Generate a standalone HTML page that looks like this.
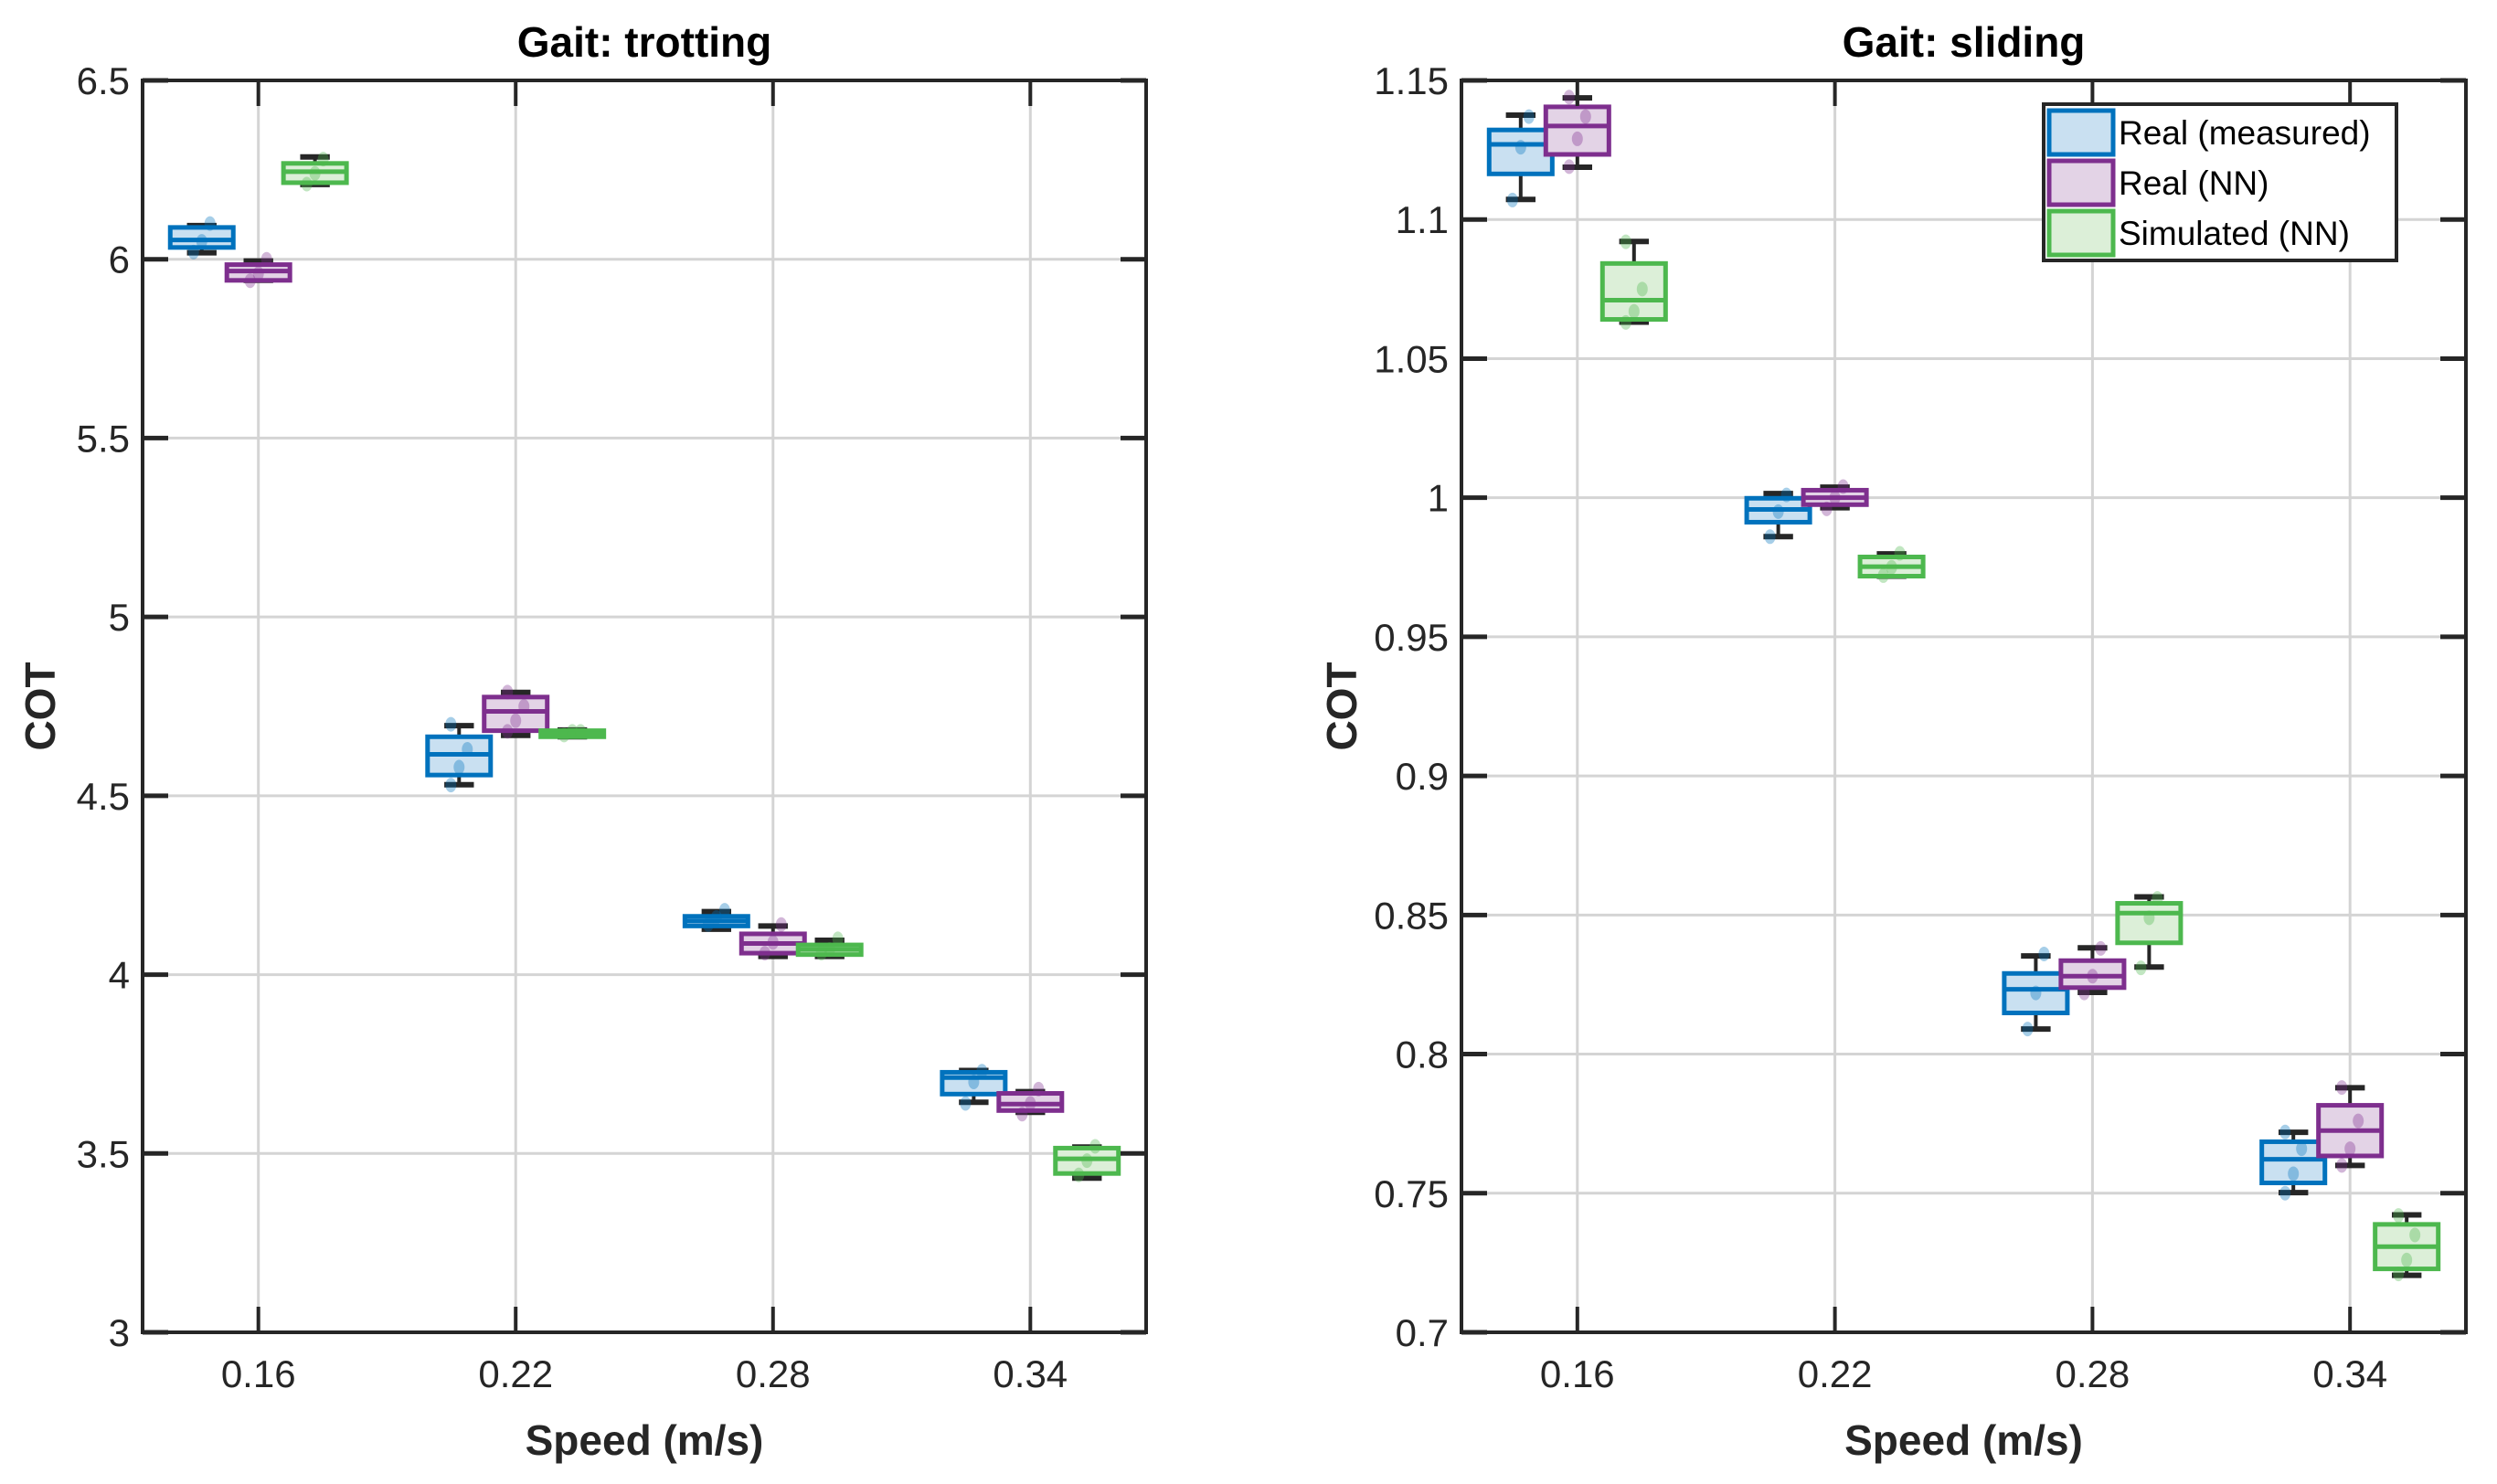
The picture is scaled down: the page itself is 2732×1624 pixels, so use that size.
<!DOCTYPE html>
<html><head><meta charset="utf-8"><style>
html,body{margin:0;padding:0;background:#fff;}
svg{display:block;font-family:"Liberation Sans","DejaVu Sans",sans-serif;}
</style></head><body>
<svg id="fig" width="2732" height="1624" viewBox="0 0 2732 1624" xmlns="http://www.w3.org/2000/svg"></svg>
<script>
// ---- data ----
const categories = ["0.16","0.22","0.28","0.34"];
const seriesNames = ["Real (measured)","Real (NN)","Simulated (NN)"];
// [whiskerLo, q1, median, q3, whiskerHi]
const trotMeasured = [[6.018,6.033,6.054,6.089,6.094],[4.531,4.558,4.616,4.665,4.696],[4.127,4.136,4.150,4.163,4.176],[3.643,3.666,3.712,3.727,3.732]];
const trotRealNN   = [[5.941,5.941,5.967,5.985,5.995],[4.669,4.682,4.736,4.776,4.789],[4.051,4.060,4.087,4.114,4.136],[3.615,3.620,3.638,3.668,3.673]];
const trotSimNN    = [[6.209,6.214,6.245,6.268,6.286],[4.665,4.665,4.673,4.682,4.684],[4.051,4.056,4.070,4.083,4.096],[3.431,3.444,3.485,3.515,3.518]];
const slideMeasured = [[1.1072,1.1164,1.1270,1.1322,1.1375],[0.9860,0.9912,0.9958,0.9998,1.0015],[0.8090,0.8148,0.8233,0.8290,0.8353],[0.7502,0.7537,0.7622,0.7685,0.7719]];
const slideRealNN   = [[1.1188,1.1234,1.1336,1.1405,1.1437],[0.9964,0.9975,1.0000,1.0027,1.0038],[0.8222,0.8239,0.8280,0.8336,0.8382],[0.7600,0.7634,0.7725,0.7816,0.7879]];
const slideSimNN    = [[1.0631,1.0641,1.0710,1.0842,1.0921],[0.9718,0.9718,0.9752,0.9787,0.9798],[0.8313,0.8400,0.8507,0.8542,0.8565],[0.7205,0.7228,0.7308,0.7388,0.7422]];
const trotPtsMeasured = [[6.02,6.05,6.10],[4.53,4.58,4.63,4.70],[4.14,4.16,4.18],[3.64,3.70,3.73]];
const trotPtsRealNN   = [[5.94,5.96,6.00],[4.68,4.71,4.75,4.79],[4.06,4.09,4.14],[3.61,3.64,3.68]];
const trotPtsSimNN    = [[6.21,6.24,6.28],[4.67,4.68,4.68],[4.06,4.07,4.10],[3.44,3.48,3.52]];
const slidePtsMeasured = [[1.107,1.126,1.137],[0.986,0.995,1.001],[0.809,0.822,0.836],[0.750,0.757,0.766,0.772]];
const slidePtsRealNN   = [[1.119,1.129,1.137,1.144],[0.996,1.000,1.004],[0.822,0.828,0.838],[0.760,0.766,0.776,0.788]];
const slidePtsSimNN    = [[1.063,1.067,1.075,1.092],[0.972,0.975,0.980],[0.831,0.849,0.856],[0.721,0.726,0.735,0.742]];
const trotTicks = [3,3.5,4,4.5,5,5.5,6,6.5];
const trotTickLabels = ["3","3.5","4","4.5","5","5.5","6","6.5"];
const slideTicks = [0.7,0.75,0.8,0.85,0.9,0.95,1,1.05,1.1,1.15];
const slideTickLabels = ["0.7","0.75","0.8","0.85","0.9","0.95","1","1.05","1.1","1.15"];

const colors = ["#0072BD","#7E2F8E","#4DB84E"];
const fills = ["#c9e0f1","#e3d3e6","#dcefd8"];
const NS = "http://www.w3.org/2000/svg";
const svg = document.getElementById('fig');
function mk(tag, attrs, parent){const e=document.createElementNS(NS,tag);for(const k in attrs)e.setAttribute(k,attrs[k]);(parent||svg).appendChild(e);return e;}

function panel(opt){
  const g = mk('g',{});
  
  
  const L=opt.left,R=opt.right,T=88,B=1458;
  const xs = i => L + (i+1-0.55)/(3.9)*(R-L);
  const ys = v => B - (v-opt.ymin)/(opt.ymax-opt.ymin)*(B-T);
  const unit = (R-L)/3.9;
  opt.ticks.forEach((t,i)=>{
    const y=ys(t);
    const gl=mk('line',{x1:L,x2:R,y1:y,y2:y,stroke:'#d4d4d4','stroke-width':3},g);
    
    
  });
  categories.forEach((c,i)=>{
    const x=xs(i);
    const gl=mk('line',{x1:x,x2:x,y1:T,y2:B,stroke:'#d4d4d4','stroke-width':3},g);
    
    
  });
  const offs=[-0.22,0,0.22], bw=0.245*unit, cw=0.115*unit;
  opt.series.forEach((ser,s)=>{
    ser.forEach((st,i)=>{
      const cx=xs(i)+offs[s]*unit;
      const bg=mk('g',{},g);
      
      
      mk('line',{x1:cx,x2:cx,y1:ys(st[0]),y2:ys(st[4]),stroke:'#262626','stroke-width':4},bg);
      mk('line',{x1:cx-cw/2,x2:cx+cw/2,y1:ys(st[0]),y2:ys(st[0]),stroke:'#262626','stroke-width':6},bg);
      mk('line',{x1:cx-cw/2,x2:cx+cw/2,y1:ys(st[4]),y2:ys(st[4]),stroke:'#262626','stroke-width':6},bg);
      mk('rect',{x:cx-bw/2,y:ys(st[3]),width:bw,height:Math.max(1,ys(st[1])-ys(st[3])),fill:fills[s],stroke:colors[s],'stroke-width':5},bg);
      mk('line',{x1:cx-bw/2,x2:cx+bw/2,y1:ys(st[2]),y2:ys(st[2]),stroke:colors[s],'stroke-width':5},bg);
      opt.points[s][i].forEach((p,k)=>{
        const d=mk('ellipse',{cx:cx+((k%3)-1)*9,cy:ys(p),rx:6,ry:8,fill:colors[s],'fill-opacity':0.35},bg);
        
        
      });
    });
  });
  const ax=mk('rect',{x:L,y:T,width:R-L,height:B-T,fill:'none',stroke:'#262626','stroke-width':4},g);
  
  
  opt.ticks.forEach((t,i)=>{
    const y=ys(t);
    mk('line',{x1:L,x2:L+28,y1:y,y2:y,stroke:'#262626','stroke-width':5},g);
    mk('line',{x1:R-28,x2:R,y1:y,y2:y,stroke:'#262626','stroke-width':5},g);
    const tl=mk('text',{x:L-14,y:y+15,'text-anchor':'end','font-size':42,fill:'#262626'},g);
    tl.textContent=opt.tickLabels[i];
    
    
  });
  categories.forEach((c,i)=>{
    const x=xs(i);
    mk('line',{x1:x,x2:x,y1:T,y2:T+28,stroke:'#262626','stroke-width':4},g);
    mk('line',{x1:x,x2:x,y1:B-28,y2:B,stroke:'#262626','stroke-width':4},g);
    const tl=mk('text',{x:x,y:1518,'text-anchor':'middle','font-size':42,fill:'#262626'},g);
    tl.textContent=c;
    
    
  });
  const ti=mk('text',{x:(L+R)/2,y:62,'text-anchor':'middle','font-size':46,'font-weight':'bold',fill:'#000'},g);
  ti.textContent=opt.title;
  
  
  const xl=mk('text',{x:(L+R)/2,y:1592,'text-anchor':'middle','font-size':46,'font-weight':'bold',fill:'#262626'},g);
  xl.textContent='Speed (m/s)';
  
  
  const yl=mk('text',{x:0,y:0,'text-anchor':'middle','font-size':46,'font-weight':'bold',fill:'#262626',transform:`translate(${opt.ylx},${(T+B)/2}) rotate(-90)`},g);
  yl.textContent='COT';
  
  
}

panel({name:'trotting-panel',left:156,right:1254,ymin:3,ymax:6.5,ticks:trotTicks,tickLabels:trotTickLabels,title:'Gait: trotting',ylx:60,
  series:[trotMeasured,trotRealNN,trotSimNN],points:[trotPtsMeasured,trotPtsRealNN,trotPtsSimNN]});
panel({name:'sliding-panel',left:1599,right:2698,ymin:0.7,ymax:1.15,ticks:slideTicks,tickLabels:slideTickLabels,title:'Gait: sliding',ylx:1484,
  series:[slideMeasured,slideRealNN,slideSimNN],points:[slidePtsMeasured,slidePtsRealNN,slidePtsSimNN]});

const lg=mk('g',{});


mk('rect',{x:2236,y:114,width:386,height:171,fill:'#fff',stroke:'#262626','stroke-width':4},lg);
seriesNames.forEach((n,s)=>{
  const cy=145+s*55;
  const e=mk('g',{},lg);
  
  
  mk('rect',{x:2242,y:cy-24,width:70,height:48,fill:fills[s],stroke:colors[s],'stroke-width':5},e);
  const t=mk('text',{x:2318,y:cy+13,'font-size':37,fill:'#000'},e);
  t.textContent=n;
});
</script>
</body></html>
